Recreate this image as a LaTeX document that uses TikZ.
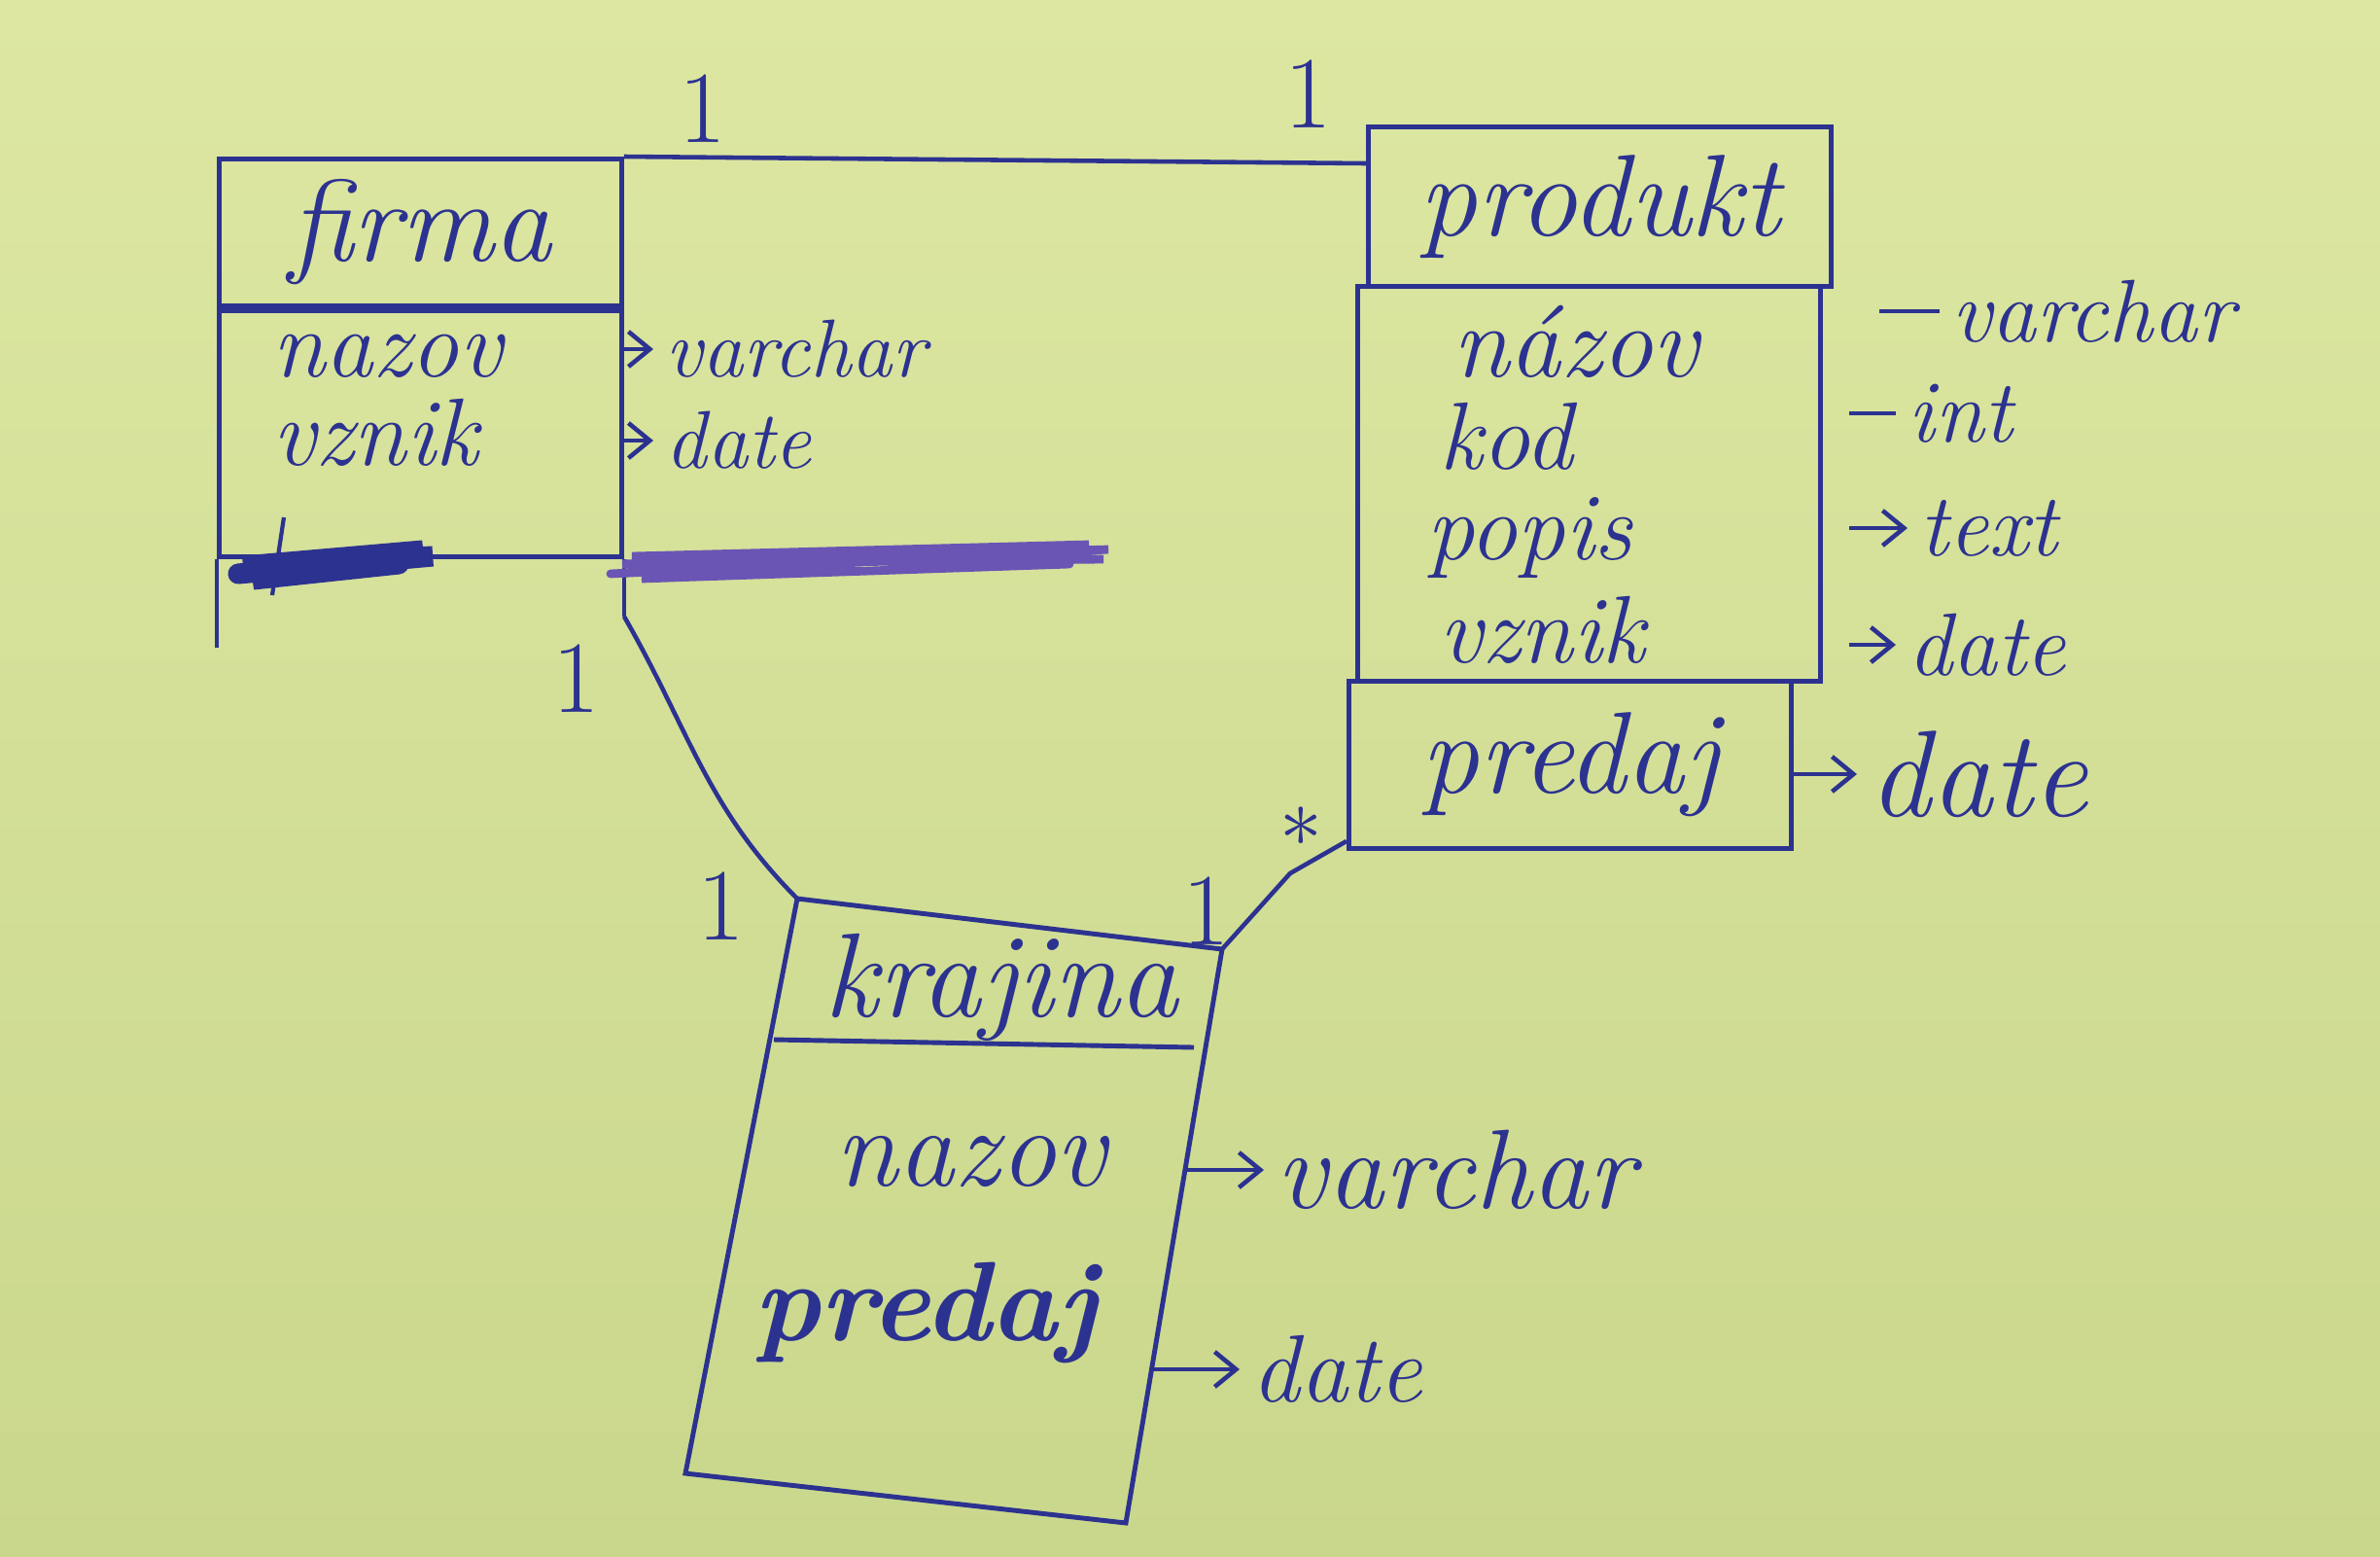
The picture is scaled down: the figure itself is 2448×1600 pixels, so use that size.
\documentclass[tikz,border=0pt]{standalone}
\usepackage{fontspec}
\usepackage{tikz}
\usetikzlibrary{positioning}
\usetikzlibrary{arrows.meta}
\usetikzlibrary{calc}
\definecolor{ink}{HTML}{2C3290}
\definecolor{paper}{HTML}{DDE7A2}
\definecolor{paperdark}{HTML}{C9D78C}
\definecolor{smudge}{HTML}{6A55B5}

\begin{document}
\begin{tikzpicture}
[x=0.1mm,y=-0.1mm,>={Straight Barb[length=2.2mm,width=3.6mm]},line width=1.3pt,color=ink,
  every node/.style={text=ink,font=\itshape\fontsize{30}{34}\selectfont},
  box/.style={draw=ink,line width=1.4pt,anchor=north west,inner sep=0pt},
  head/.style={font=\itshape\fontsize{34}{38}\selectfont},
  attr/.style={anchor=west,inner sep=0pt,text height=0.7em,text depth=0.18em,
    font=\itshape\fontsize{28}{32}\selectfont},
  type/.style={anchor=west,inner sep=3pt,font=\itshape\fontsize{26}{30}\selectfont},
  mult/.style={font=\fontsize{30}{34}\selectfont}]
\shade[top color=paper,bottom color=paperdark] (0,0) rectangle (2448,1600);
\useasboundingbox (0,0) rectangle (2448,1600);
%% firma
\node[box,head,minimum width=41.4mm,minimum height=15.1mm] (firma) at (223,161) {firma};
\node[box,minimum width=41.4mm,minimum height=25.3mm] (firmaattr) at (firma.south west) {};
\draw (firmaattr.south west) -- ++(0,91);
\draw (firmaattr.south east) -- ++(0,59) coordinate (firmaend);
\node[attr] (fnazov) at (278,378) {nazov};
\node[attr] (fvznik) at (278,469) {vznik};
\node[type,font=\itshape\fontsize{24}{28}\selectfont] (fvarchar) at (672,359) {varchar};
\node[type,font=\itshape\fontsize{24}{28}\selectfont] (fdate) at (672,453) {date};
\draw[->] (firmaattr.east |- fvarchar.west) -- (fvarchar.west);
\draw[->] (firmaattr.east |- fdate.west) -- (fdate.west);
%% crossed out row
\draw[line width=6pt,line cap=round] (245,590) -- (445,572) -- (250,582) -- (435,566) -- (260,596) -- (410,580);
\draw[line width=1.2pt] (292,532) -- (280,612);
\draw[smudge,line width=2.5pt,line cap=round] (628,590) -- (1140,565) -- (640,580) -- (1135,575)
  -- (650,572) -- (1120,560) -- (660,595) -- (1100,580);
%% produkt
\node[box,head,minimum width=47.6mm,minimum height=16.4mm] (produkt) at (1405,128) {produkt};
\node[box,minimum width=47.6mm,minimum height=40.6mm] (prodattr) at (1394,292) {};
\node[box,head,minimum width=45.5mm,minimum height=17.2mm] (predaj) at (1385,698) {predaj};
\node[attr,font=\itshape\fontsize{30}{34}\selectfont] (pnazov) at (1492,378) {názov};
\node[attr] (pkod) at (1478,473) {kod};
\node[attr] (ppopis) at (1465,566) {popis};
\node[attr] (pvznik) at (1478,672) {vznik};
\node[type] (pvarchar) at (1995,320) {varchar};
\node[type] (pint) at (1950,425) {int};
\node[type] (ptext) at (1962,543) {text};
\node[type] (pdate) at (1950,663) {date};
\node[type,font=\itshape\fontsize{36}{40}\selectfont] (pdate2) at (1910,796) {date};
\draw ([xshift=5.8mm]prodattr.east |- pvarchar.west) -- (pvarchar.west);
\draw ([xshift=2.7mm]prodattr.east |- pint.west) -- (pint.west);
\draw[->] ([xshift=2.7mm]prodattr.east |- ptext.west) -- (ptext.west);
\draw[->] ([xshift=2.7mm]prodattr.east |- pdate.west) -- (pdate.west);
\draw[->] (predaj.east |- pdate2.west) -- (pdate2.west);
%% krajina
\coordinate (kNW) at (820,924);
\coordinate (kNE) at (1257,976);
\coordinate (kSE) at (1158,1566);
\coordinate (kSW) at (705,1515);
\draw[line width=1.4pt] (kNW) -- (kNE) -- (kSE) -- (kSW) -- cycle;
\draw[line width=1.4pt] (796,1069) -- (1228,1077);
\coordinate (kE1) at ($(kNE)!0.39!(kSE)$);
\coordinate (kE2) at ($(kNE)!0.73!(kSE)$);
\node[head,font=\itshape\fontsize{35}{39}\selectfont] (krajina) at (1030,1015) {krajina};
\node[font=\itshape\fontsize{33}{37}\selectfont] (knazov) at (999,1194) {nazov};
\node[font=\itshape\bfseries\fontsize{33}{37}\selectfont] (kpredaj) at (952,1350) {predaj};
\node[type,font=\itshape\fontsize{33}{37}\selectfont] (kvarchar) at (1300,1203) {varchar};
\node[type,font=\itshape\fontsize{28}{32}\selectfont] (kdate) at (1275,1408) {date};
\draw[->] (kvarchar.west -| kE1) -- (kvarchar.west);
\draw[->] (kdate.west -| kE2) -- (kdate.west);
%% relationships
\draw (firma.north east) -- ([yshift=-4mm]produkt.north west);
\draw (firmaend) to[out=-60,in=135] (kNW);
\draw (kNE) -- ++(70,-78) -- ([yshift=1mm]predaj.south west);
\node[mult] (m1) at (723,112) {1};
\node[mult] (m2) at (1346,97) {1};
\node[mult] (m3) at (593,698) {1};
\node[mult] (m4) at (742,932) {1};
\node[mult] (m5) at (1241,937) {1};
\node[mult,font=\fontsize{44}{48}\selectfont] (m6) at (1338,850) {$*$};
\end{tikzpicture}
\end{document}
